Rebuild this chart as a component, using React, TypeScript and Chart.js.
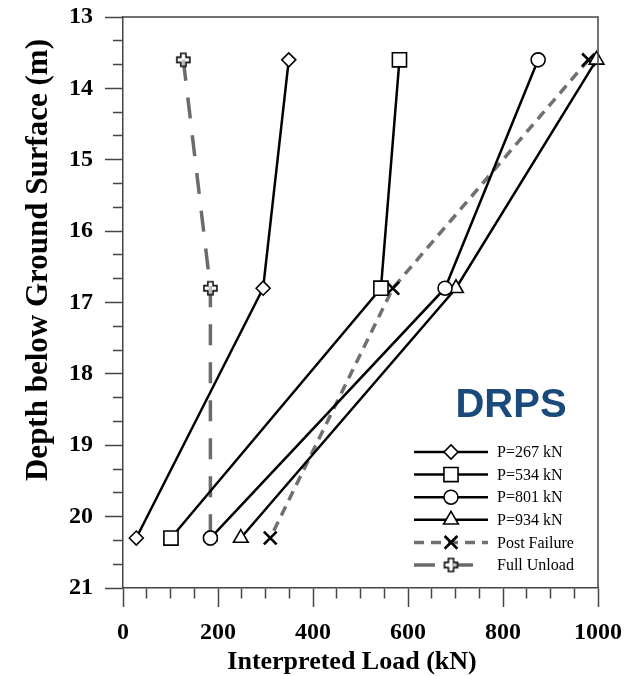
import React, { useEffect, useRef } from 'react';
import { Chart, registerables } from 'chart.js';
import { drawPoint } from 'chart.js/helpers';

Chart.register(...registerables);

// ---- Data ----
const depthM = [13.6, 16.8, 20.3];
const loadP267 = [349, 295, 28];
const loadP534 = [582, 543, 101];
const loadP801 = [874, 678, 184];
const loadP934 = [997, 701, 248];
const loadPostFailure = [980, 568, 310];
const loadFullUnload = [127, 184, 184];
const seriesLabels = ['P=267 kN', 'P=534 kN', 'P=801 kN', 'P=934 kN', 'Post Failure', 'Full Unload'];

const xMin = 0;
const xMax = 1000;
const xMajorStep = 200;
const xMinorStep = 50;
const yMin = 13;
const yMax = 21;
const yMinorStep = 1 / 3;

const xTitle = 'Interpreted Load (kN)';
const yTitle = 'Depth below Ground Surface (m)';
const badge = 'DRPS';

const SERIF = '"Liberation Serif", "Times New Roman", serif';
const SANS = '"Liberation Sans", Arial, sans-serif';

function pts(loads: number[]) {
  return loads.map((x, i) => ({ x, y: depthM[i] }));
}

function makePlus(): HTMLCanvasElement {
  const c = document.createElement('canvas');
  c.width = 17;
  c.height = 17;
  const g = c.getContext('2d')!;
  const cx = 8.5, cy = 8.5, a = 2.6, L = 6.5;
  g.beginPath();
  g.moveTo(cx - a, cy - L);
  g.lineTo(cx + a, cy - L);
  g.lineTo(cx + a, cy - a);
  g.lineTo(cx + L, cy - a);
  g.lineTo(cx + L, cy + a);
  g.lineTo(cx + a, cy + a);
  g.lineTo(cx + a, cy + L);
  g.lineTo(cx - a, cy + L);
  g.lineTo(cx - a, cy + a);
  g.lineTo(cx - L, cy + a);
  g.lineTo(cx - L, cy - a);
  g.lineTo(cx - a, cy - a);
  g.closePath();
  g.fillStyle = 'rgba(255,255,255,0.55)';
  g.fill();
  g.strokeStyle = '#111';
  g.lineWidth = 1.6;
  g.stroke();
  return c;
}

const isInt = (v: number) => Math.abs(v - Math.round(v)) < 1e-6;

export default function App() {
  const ref = useRef<HTMLCanvasElement>(null);

  useEffect(() => {
    const plus = makePlus();
    const solid = (label: string, loads: number[], style: string, radius: number) => ({
      label,
      data: pts(loads),
      showLine: true,
      borderColor: '#000',
      borderWidth: 2.5,
      pointStyle: style,
      pointRadius: radius,
      pointBackgroundColor: '#fff',
      pointBorderColor: '#000',
      pointBorderWidth: 1.6,
      clip: false as any,
    });
    const datasets: any[] = [
      solid(seriesLabels[0], loadP267, 'rectRot', 7),
      solid(seriesLabels[1], loadP534, 'rect', 10),
      solid(seriesLabels[2], loadP801, 'circle', 7),
      solid(seriesLabels[3], loadP934, 'triangle', 8.5),
      {
        label: seriesLabels[4],
        data: pts(loadPostFailure),
        showLine: true,
        borderColor: '#707070',
        borderWidth: 3.5,
        borderDash: [10, 7],
        pointStyle: 'crossRot',
        pointRadius: 9,
        pointBorderColor: '#000',
        pointBorderWidth: 2.6,
        pointBackgroundColor: '#000',
        clip: false,
      },
      {
        label: seriesLabels[5],
        data: pts(loadFullUnload),
        showLine: true,
        borderColor: '#6b6b6b',
        borderWidth: 3.5,
        borderDash: [21, 17],
        pointStyle: plus,
        pointRadius: 8,
        clip: false,
      },
    ];

    const decor = {
      id: 'decor',
      afterDraw(chart: any) {
        const ctx = chart.ctx as CanvasRenderingContext2D;
        const ca = chart.chartArea;
        ctx.save();
        // frame (top + right)
        ctx.strokeStyle = '#444';
        ctx.lineWidth = 1.5;
        ctx.beginPath();
        ctx.moveTo(ca.left, ca.top);
        ctx.lineTo(ca.right, ca.top);
        ctx.lineTo(ca.right, ca.bottom);
        ctx.stroke();

        // axis titles
        ctx.fillStyle = '#000';
        ctx.textAlign = 'center';
        ctx.textBaseline = 'alphabetic';
        ctx.font = `bold 26px ${SERIF}`;
        ctx.fillText(xTitle, 352, 669);

        ctx.save();
        ctx.translate(47, 260);
        ctx.rotate(-Math.PI / 2);
        ctx.font = `bold 31px ${SERIF}`;
        ctx.fillText(yTitle, 0, 0);
        ctx.restore();

        // badge
        ctx.fillStyle = '#1a4a7b';
        ctx.font = `bold 40px ${SANS}`;
        ctx.fillText(badge, 511, 417);

        // legend
        const x0 = 414, x1 = 488, xm = 451, xt = 497;
        const y0 = 452, dy = 22.6;
        chart.data.datasets.forEach((ds: any, i: number) => {
          const y = y0 + i * dy;
          ctx.save();
          ctx.strokeStyle = ds.borderColor;
          ctx.lineWidth = ds.borderWidth;
          ctx.setLineDash(ds.borderDash || []);
          ctx.beginPath();
          ctx.moveTo(x0, y);
          ctx.lineTo(x1, y);
          ctx.stroke();
          ctx.setLineDash([]);
          ctx.strokeStyle = ds.pointBorderColor || '#000';
          ctx.fillStyle = ds.pointBackgroundColor || '#fff';
          ctx.lineWidth = ds.pointBorderWidth || 1.5;
          drawPoint(ctx, { pointStyle: ds.pointStyle, radius: ds.pointRadius, rotation: 0, borderWidth: ds.pointBorderWidth || 1.5 } as any, xm, y);
          ctx.restore();
          ctx.fillStyle = '#000';
          ctx.font = `16px ${SERIF}`;
          ctx.textAlign = 'left';
          ctx.textBaseline = 'middle';
          ctx.fillText(ds.label, xt, y + 1);
        });
        ctx.restore();
      },
    };

    const chart = new Chart(ref.current!, {
      type: 'scatter',
      data: { datasets },
      options: {
        animation: false,
        responsive: false,
        devicePixelRatio: 1,
        layout: { padding: { top: 17, right: 34, left: 0, bottom: 0 } },
        plugins: {
          legend: { display: false },
          tooltip: { enabled: false },
          title: { display: false },
        },
        scales: {
          x: {
            type: 'linear',
            min: xMin,
            max: xMax,
            afterFit: (s: any) => { s.height = 88; s.paddingLeft = 0; s.paddingRight = 0; },
            ticks: {
              stepSize: xMinorStep,
              autoSkip: false,
              maxRotation: 0,
              padding: 11,
              color: '#000',
              font: { family: SERIF, size: 24, weight: 'bold' },
              callback: (v: any) => (Number(v) % xMajorStep === 0 ? String(v) : ''),
            },
            grid: {
              drawOnChartArea: false,
              drawTicks: true,
              tickLength: 19,
              tickColor: '#444',
              tickWidth: 1.5,
              tickBorderDash: (c: any) => (c.tick && Number(c.tick.value) % xMajorStep === 0 ? [] : [10, 100]),
            } as any,
            border: { color: '#444', width: 1.5 },
          },
          y: {
            type: 'linear',
            reverse: true,
            min: yMin,
            max: yMax,
            afterFit: (s: any) => { s.width = 123; s.paddingTop = 0; s.paddingBottom = 0; },
            ticks: {
              stepSize: yMinorStep,
              autoSkip: false,
              padding: 12,
              color: '#000',
              font: { family: SERIF, size: 24, weight: 'bold' },
              callback: (v: any) => (isInt(Number(v)) ? String(Math.round(Number(v))) : ''),
            },
            grid: {
              drawOnChartArea: false,
              drawTicks: true,
              tickLength: 18,
              tickColor: '#444',
              tickWidth: 1.5,
              tickBorderDash: (c: any) => (c.tick && isInt(Number(c.tick.value)) ? [] : [0, 8, 10, 100]),
            } as any,
            border: { color: '#444', width: 1.5 },
          },
        },
      } as any,
      plugins: [decor],
    });
    return () => chart.destroy();
  }, []);

  return (
    <div style={{ position: 'absolute', left: 0, top: 0, width: 632, height: 676, background: '#fff' }}>
      <canvas ref={ref} width={632} height={676} style={{ display: 'block' }} />
    </div>
  );
}
